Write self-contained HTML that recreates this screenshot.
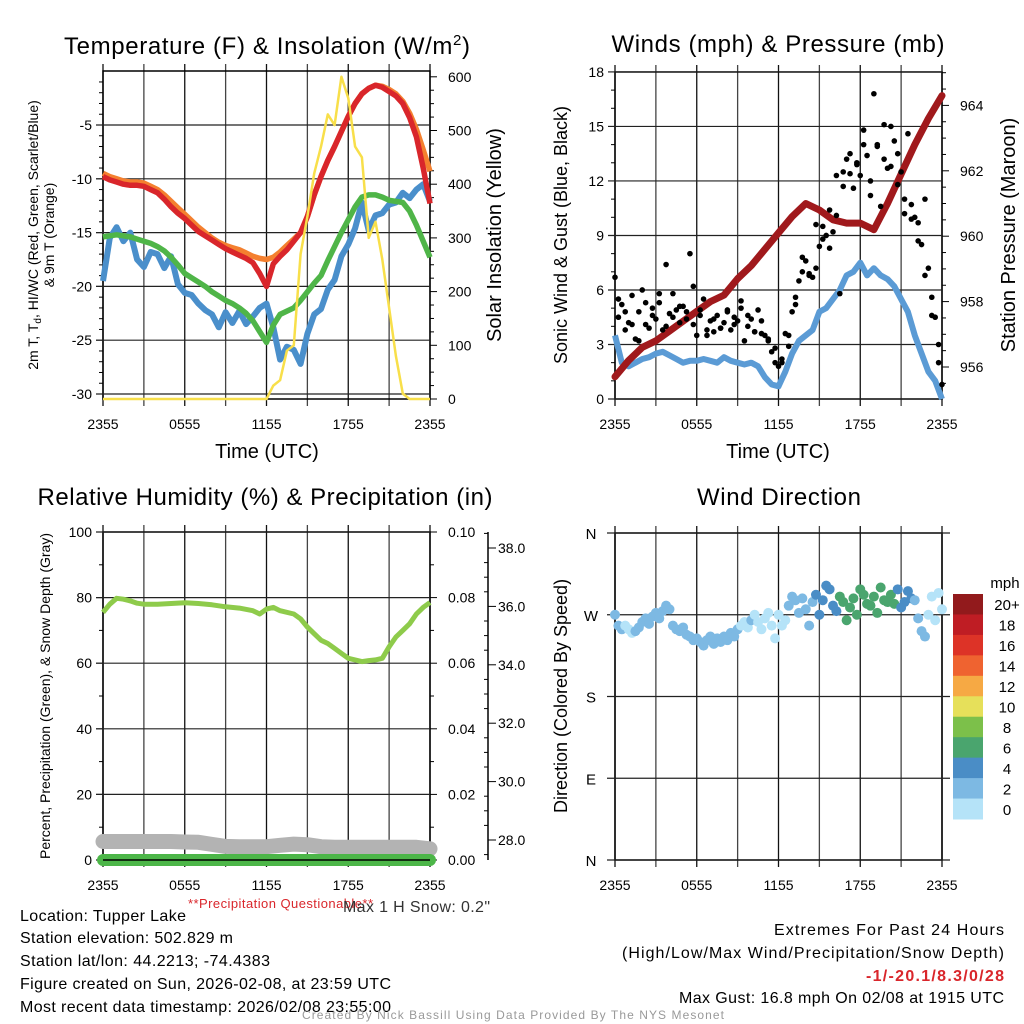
<!DOCTYPE html>
<html><head><meta charset="utf-8">
<style>
body{margin:0;background:#fff}
svg{display:block;font-family:"Liberation Sans",sans-serif}
.nar{font-family:"Liberation Sans Narrow","Liberation Sans",sans-serif}
</style></head>
<body>
<svg id="c" width="1024" height="1024" viewBox="0 0 1024 1024">
  <rect x="0" y="0" width="1024" height="1024" fill="#fff"/>
  <g id="texts" fill="#000">
    <text x="267" y="54" font-size="24" text-anchor="middle" textLength="406">Temperature (F) &amp; Insolation (W/m<tspan dy="-9" font-size="15">2</tspan><tspan dy="9">)</tspan></text>
    <text x="778" y="52" font-size="24" text-anchor="middle" textLength="333">Winds (mph) &amp; Pressure (mb)</text>
    <text x="265" y="505" font-size="24" text-anchor="middle" textLength="455">Relative Humidity (%) &amp; Precipitation (in)</text>
    <text x="779" y="505" font-size="24" text-anchor="middle" textLength="164">Wind Direction</text>

    <text x="267" y="458" font-size="20" text-anchor="middle">Time (UTC)</text>
    <text x="778" y="458" font-size="20" text-anchor="middle">Time (UTC)</text>

    <text transform="translate(38,235) rotate(-90)" font-size="14" text-anchor="middle">2m T, T<tspan font-size="10" dy="3">d</tspan><tspan dy="-3">, HI/WC (Red, Green, Scarlet/Blue)</tspan></text>
    <text transform="translate(54,235) rotate(-90)" font-size="14" text-anchor="middle">&amp; 9m T (Orange)</text>
    <text transform="translate(501,235) rotate(-90)" font-size="20" text-anchor="middle">Solar Insolation (Yellow)</text>
    <text transform="translate(567,235) rotate(-90)" font-size="18" text-anchor="middle">Sonic Wind &amp; Gust (Blue, Black)</text>
    <text transform="translate(1015,235) rotate(-90)" font-size="20" text-anchor="middle">Station Pressure (Maroon)</text>
    <text transform="translate(50,696) rotate(-90)" font-size="14" text-anchor="middle">Percent, Precipitation (Green), &amp; Snow Depth (Gray)</text>
    <text transform="translate(567,696) rotate(-90)" font-size="18" text-anchor="middle">Direction (Colored By Speed)</text>

    <text x="188" y="908" font-size="13" fill="#d9262b" class="nar" textLength="185">**Precipitation Questionable**</text>
    <text x="343" y="912" font-size="16" fill="#333" class="nar" textLength="147">Max 1 H Snow: 0.2"</text>

    <text x="20" y="921" font-size="16" class="nar" textLength="166">Location: Tupper Lake</text>
    <text x="20" y="943" font-size="16" class="nar" textLength="213">Station elevation: 502.829 m</text>
    <text x="20" y="966" font-size="16" class="nar" textLength="250">Station lat/lon: 44.2213; -74.4383</text>
    <text x="20" y="989" font-size="16" class="nar" textLength="371">Figure created on Sun, 2026-02-08, at 23:59 UTC</text>
    <text x="20" y="1012" font-size="16" class="nar" textLength="371">Most recent data timestamp: 2026/02/08 23:55:00</text>

    <text x="774" y="935" font-size="16" class="nar" textLength="230">Extremes For Past 24 Hours</text>
    <text x="622" y="958" font-size="16" class="nar" textLength="382">(High/Low/Max Wind/Precipitation/Snow Depth)</text>
    <text x="866" y="981" font-size="16" class="nar" font-weight="bold" fill="#d9262b" textLength="138">-1/-20.1/8.3/0/28</text>
    <text x="679" y="1003" font-size="16" class="nar" textLength="325">Max Gust: 16.8 mph On 02/08 at 1915 UTC</text>
    <text x="302" y="1019" font-size="12" fill="#999" class="nar" textLength="422">Created By Nick Bassill Using Data Provided By The NYS Mesonet</text>
  </g>
</svg>
<script>
// ===== Data arrays (24 h, 2355 -> 2355 UTC) =====
const xTickLabels = ["2355","0555","1155","1755","2355"];
// 30-minute series (49 values)
const tempRed = [-9.8,-10.1,-10.3,-10.5,-10.6,-10.6,-10.7,-11.0,-11.3,-11.9,-12.6,-13.2,-13.7,-14.3,-14.9,-15.3,-15.7,-16.1,-16.5,-16.8,-17.1,-17.4,-17.8,-18.8,-20.0,-17.9,-17.2,-16.6,-15.8,-15.0,-13.5,-11.5,-9.8,-8.3,-7.0,-5.6,-4.2,-3.0,-2.1,-1.6,-1.3,-1.5,-1.9,-2.3,-3.0,-4.3,-6.1,-9.0,-12.3];
const temp9mOrange = [-9.5,-9.8,-10.0,-10.2,-10.3,-10.3,-10.4,-10.7,-11.0,-11.5,-12.1,-12.7,-13.3,-13.9,-14.5,-15.0,-15.5,-15.9,-16.2,-16.4,-16.6,-16.9,-17.2,-17.4,-17.5,-17.3,-16.8,-16.2,-15.6,-15.0,-13.5,-11.5,-9.8,-8.3,-7.0,-5.6,-4.2,-3.0,-2.1,-1.6,-1.3,-1.4,-1.7,-2.1,-2.8,-3.9,-5.4,-7.3,-9.3];
const dewGreen = [-15.4,-15.3,-15.2,-15.3,-15.4,-15.6,-15.8,-16.0,-16.3,-16.7,-17.3,-18.0,-18.8,-19.2,-19.6,-20.0,-20.5,-20.9,-21.3,-21.6,-22.0,-22.5,-23.2,-24.2,-25.2,-23.6,-22.6,-22.3,-22.0,-21.3,-20.5,-19.7,-19.0,-17.6,-16.3,-15.0,-13.8,-12.6,-11.7,-11.5,-11.5,-11.7,-12.0,-12.1,-12.2,-13.0,-14.3,-15.8,-17.3];
const windChillBlue = [-19.5,-15.5,-14.5,-15.8,-15.0,-17.5,-18.2,-16.8,-17.0,-18.3,-17.2,-19.8,-20.6,-20.8,-21.6,-22.2,-22.6,-23.8,-22.4,-23.4,-22.3,-23.5,-22.8,-22.0,-21.6,-23.8,-26.8,-25.6,-25.9,-27.2,-24.4,-22.6,-22.1,-20.3,-19.4,-17.2,-16.1,-14.6,-12.2,-14.8,-13.4,-13.2,-12.4,-12.2,-11.3,-11.8,-11.0,-10.5,-12.1];
const solarYellow = [0,0,0,0,0,0,0,0,0,0,0,0,0,0,0,0,0,0,0,0,0,0,0,0,0,25,35,90,100,270,340,420,470,530,510,600,560,470,450,300,330,260,170,80,10,0,0,0,0];
const windBlue = [3.5,2.0,1.8,2.0,2.2,2.3,2.5,2.6,2.4,2.2,2.0,2.1,2.1,2.2,2.1,2.0,2.3,2.1,2.0,1.9,2.0,1.8,1.2,0.8,0.7,1.5,2.5,3.2,3.5,3.8,4.8,5.0,5.5,6.0,6.8,7.0,7.5,6.8,7.2,6.8,6.6,6.2,5.5,4.8,3.5,2.5,1.5,1.0,0.0];
// hourly pressure (25 values)
const pressure = [955.7,956.2,956.6,956.8,957.1,957.4,957.7,958.0,958.2,958.7,959.1,959.6,960.1,960.6,961.0,960.8,960.5,960.4,960.4,960.2,961.0,961.9,962.8,963.6,964.3];
// 15-minute gusts (97 values)
const gustA = [6.7,4.5,5.2,3.8,4.2,5.7,3.3,4.8,6.0,4.1,3.9,5.0,4.4,5.3,3.8,7.4,4.7,5.8,4.9,4.2,5.1,4.8,8.0,4.1,3.5,4.9,5.5,3.8,4.3,3.7,4.6,3.9,4.2,4.9,3.8,4.5,4.3,5.0,3.2,4.6,4.4,3.7,4.9,3.6,3.5,3.2,2.6,2.0,1.8,2.2,3.6,2.9,4.8,5.2,6.5,7.0,7.6,6.9,6.7,7.2,8.4,9.5,9.0,8.3,9.2,10.1,5.8,12.5,13.2,12.4,11.6,13.0,12.3,14.0,13.4,12.0,16.8,14.0,10.6,13.2,12.7,15.0,14.2,13.5,12.5,11.0,14.6,10.7,10.0,9.7,8.5,11.0,7.2,5.6,4.5,3.0,0.8];
// 30-minute offset gusts (48 values, at :15 / :45 past)
const gustB = [5.5,4.8,4.1,3.2,5.3,4.6,5.8,4.0,4.5,5.1,4.4,6.2,4.6,3.5,4.4,3.9,4.8,4.1,5.4,4.0,3.7,4.3,3.3,2.8,2.0,3.5,5.6,7.8,6.8,9.6,8.8,10.4,12.3,11.7,13.5,12.9,14.8,11.2,13.9,15.1,12.8,11.8,10.2,9.9,8.7,6.8,4.6,2.0];
// relative humidity (hour, %) pairs
const rhHours = [0,0.5,1,1.5,2,2.5,3,4,5,6,7,8,9,10,11,11.5,12,12.5,13,14,14.5,15,15.5,16,16.5,17,17.5,18,18.5,19,19.5,20,20.5,21,21.5,22,22.5,23,23.5,24];
const rhValues = [75.5,78,79.8,79.5,79,78.3,78,78,78.2,78.4,78.2,77.8,77.2,76.8,76,75,76.5,77,76,75,73.5,71,69,67,66,64.5,63,61.5,61,60.5,60.8,61,61.5,65,68,70,72,75,77,78.5];
// hourly precipitation (in) and snow depth (in)
const precip = [0,0,0,0,0,0,0,0,0,0,0,0,0,0,0,0,0,0,0,0,0,0,0,0,0];
const snowDepth = [27.95,27.95,27.95,27.95,27.95,27.95,27.93,27.92,27.85,27.78,27.77,27.77,27.77,27.82,27.86,27.84,27.77,27.75,27.75,27.75,27.75,27.75,27.75,27.75,27.70];
// 15-minute wind direction (deg, 97 values)
const windDir = [270,258,254,258,254,250,252,256,262,266,260,268,272,266,274,280,276,258,254,252,256,248,246,242,244,240,236,242,246,238,244,240,246,242,250,246,254,258,262,256,264,270,262,254,266,272,258,244,270,258,264,280,290,286,272,288,276,258,284,292,270,286,302,298,280,274,290,284,264,278,288,270,298,292,282,280,290,272,300,286,284,292,282,298,278,284,296,288,286,266,252,246,270,290,264,294,276];
const speedBins = [0,2,4,6,8,10,12,14,16,18,20];
const speedLabels = ["0","2","4","6","8","10","12","14","16","18","20+"];
const speedColors = ["#b5e3f8","#7db9e3","#4a8dc6","#4aa56e","#7cc04a","#e6e05a","#f6a944","#ef6330","#dd3327","#bf1d24","#921a1c"];

// ===== helpers =====
const NS = "http://www.w3.org/2000/svg";
const svg = document.getElementById("c");
function mk(tag, attrs, parent){
  const e = document.createElementNS(NS, tag);
  for (const k in attrs) e.setAttribute(k, attrs[k]);
  (parent || svg).appendChild(e);
  return e;
}
function hourOf(i, n){ return i * 24 / (n - 1); }
function polyPts(vals, xf, yf, hf){
  return vals.map((v,i)=> xf(hf ? hf(i) : hourOf(i, vals.length)).toFixed(1)+","+yf(v).toFixed(1)).join(" ");
}
function line(x1,y1,x2,y2,stroke,w,parent){
  return mk("line",{x1:x1,y1:y1,x2:x2,y2:y2,stroke:stroke,"stroke-width":w},parent);
}
function txt(x,y,s,size,anchor,parent){
  const t = mk("text",{x:x,y:y,"font-size":size,"text-anchor":anchor||"middle"},parent);
  t.textContent = s;
  return t;
}

function frame(name, x0, x1, y0, y1, labelY){
  const g = mk("g",{});
  
  
  for (let h = 0; h <= 24; h += 3){
    const x = x0 + h*(x1-x0)/24;
    const l = line(x, y0-7, x, y1+7, (h%6===0)?"#111":"#444", 1.3, g);
    
    
  }
  xTickLabels.forEach((s,k)=>{
    const t = txt(x0 + k*6*(x1-x0)/24, labelY, s, 14, "middle", g);
    
    
  });
  const r = mk("rect",{x:x0,y:y0,width:x1-x0,height:y1-y0,fill:"none",stroke:"#000","stroke-width":1.5},g);
  
  
  return g;
}
function yAxis(g, x, side, vmin, vmax, major, minor, yf, fmt, labelOff, grid){
  for (let v = vmin; v <= vmax + 1e-9; v += minor){
    const y = yf(v);
    const isMaj = Math.abs(Math.round(v/major)*major - v) < 1e-6;
    const len = isMaj ? 7 : 4;
    line(x, y, x + side*len, y, "#000", 1, g);
    if (isMaj){
      const t = txt(x + side*labelOff, y + 5, fmt(v), 14, side < 0 ? "end" : "start", g);
      
      
      if (grid){
        const gl = line(grid[0], y, grid[1], y, "#222", 1.2, g);
        
        
      }
    }
  }
}

// ===== Panel 1: temperature & insolation =====
(function(){
  const x0=103,x1=430,y0=71,y1=399;
  const X = h => x0 + h*(x1-x0)/24;
  const YT = t => 394 - (t+30)*10.76;
  const YS = w => 399 - w*0.537;
  const g = frame("temperature", x0, x1, y0, y1, 429);
  yAxis(g, x0, -1, -30, -1, 5, 1, YT, v=>String(v), 11, [x0-7, x1]);
  yAxis(g, x1, 1, 0, 600, 100, 25, YS, v=>String(v), 18, null);
  const clip = mk("clipPath",{id:"c1"}); mk("rect",{x:x0-6,y:y0,width:x1-x0+12,height:y1-y0},clip);
  const pl = mk("g",{"clip-path":"url(#c1)"});
  const blue = mk("polyline",{points:polyPts(windChillBlue,X,YT),fill:"none",stroke:"#4a8fcb","stroke-width":6,"stroke-linejoin":"round"},pl);
  
  
  const green = mk("polyline",{points:polyPts(dewGreen,X,YT),fill:"none",stroke:"#4fb548","stroke-width":5.5,"stroke-linejoin":"round"},pl);
  
  
  const orange = mk("polyline",{points:polyPts(temp9mOrange,X,YT),fill:"none",stroke:"#f4802f","stroke-width":5.5,"stroke-linejoin":"round"},pl);
  
  
  const red = mk("polyline",{points:polyPts(tempRed,X,YT),fill:"none",stroke:"#d9262b","stroke-width":5.5,"stroke-linejoin":"round"},pl);
  
  
  const yel = mk("polyline",{points:polyPts(solarYellow,X,YS),fill:"none",stroke:"#f8df4a","stroke-width":2.5,"stroke-linejoin":"round"});
  
  
})();

// ===== Panel 2: winds & pressure =====
(function(){
  const x0=615,x1=942,y0=72,y1=399;
  const X = h => x0 + h*(x1-x0)/24;
  const YW = v => 399 - v*18.17;
  const YP = p => 367 - (p-956)*32.7;
  const g = frame("winds", x0, x1, y0, y1, 429);
  yAxis(g, x0, -1, 0, 18, 3, 1, YW, v=>String(v), 11, [x0-7, x1]);
  yAxis(g, x1, 1, 955.5, 965, 2, 0.5, YP, v=>String(v), 18, null);
  const wl = mk("polyline",{points:polyPts(windBlue,X,YW),fill:"none",stroke:"#5b9bd5","stroke-width":6,"stroke-linejoin":"round"});
  
  
  const pg = mk("polyline",{points:polyPts(pressure,X,YP),fill:"none",stroke:"#a0191c","stroke-width":7,"stroke-linejoin":"round","stroke-linecap":"round"});
  
  
  const dots = mk("g",{fill:"#000"});
  
  
  gustA.forEach((v,i)=>{
    const c = mk("circle",{cx:X(hourOf(i,gustA.length)),cy:YW(v),r:2.8},dots);
    
    
  });
  gustB.forEach((v,i)=>{
    const c = mk("circle",{cx:X((i+0.5)*0.5),cy:YW(v),r:2.8},dots);
    
    
  });
})();

// ===== Panel 3: RH, precip, snow depth =====
(function(){
  const x0=103,x1=430,y0=532,y1=860;
  const X = h => x0 + h*(x1-x0)/24;
  const YR = r => 860 - r*3.28;
  const YPr = p => 860 - p*3280;
  const YSn = s => 840 - (s-28)*29.2;
  const g = frame("humidity", x0, x1, y0, y1, 890);
  yAxis(g, x0, -1, 0, 100, 20, 10, YR, v=>String(v), 11, [x0-7, x1]);
  yAxis(g, x1, 1, 0, 0.1, 0.02, 0.01, YPr, v=>v.toFixed(2), 18, null);
  const sa = line(488, 532, 488, 860, "#000", 1.5, g);
  
  
  for (let s = 27.5; s <= 38.5; s += 0.5){
    const y = YSn(s);
    if (y < 532 || y > 860) continue;
    const maj = Math.abs(s - Math.round(s/2)*2) < 1e-6;
    line(488, y, maj ? 496 : 484, y, "#000", 1, g);
    if (maj){
      const t = txt(498, y+5, s.toFixed(1), 14, "start", g);
      
      
    }
  }
  const sn = mk("polyline",{points:polyPts(snowDepth,X,YSn),fill:"none",stroke:"#b3b3b3","stroke-width":15,"stroke-linejoin":"round","stroke-linecap":"round"});
  
  
  const pr = mk("polyline",{points:polyPts(precip,X,YPr),fill:"none",stroke:"#4cb648","stroke-width":12,"stroke-linecap":"round"});
  
  
  line(x0, y1, x1, y1, "#000", 1.5);
  const rh = mk("polyline",{points:polyPts(rhValues,X,YR,i=>rhHours[i]),fill:"none",stroke:"#8ecb4b","stroke-width":5,"stroke-linejoin":"round"});
  
  
})();

// ===== Panel 4: wind direction =====
(function(){
  const x0=615,x1=942,y0=533,y1=860;
  const X = h => x0 + h*(x1-x0)/24;
  const YD = d => 860 - d*327/360;
  const g = frame("wind-direction", x0, x1, y0, y1, 890);
  ["N","E","S","W","N"].forEach((s,k)=>{
    const y = YD(k*90);
    line(x0-8, y, x1+8, y, "#222", 1.2, g);
    const t = txt(591, y+6, s, 15, "middle", g);
    
    
  });
  function speedAt(h){
    const f = h/24*(windBlue.length-1), i = Math.floor(f), fr = f-i;
    const a = windBlue[i], b = windBlue[Math.min(i+1, windBlue.length-1)];
    return a + (b-a)*fr;
  }
  function colorFor(v){
    let k = 0;
    for (let j = 0; j < speedBins.length; j++) if (v >= speedBins[j]) k = j;
    return speedColors[k];
  }
  const dots = mk("g",{});
  
  
  windDir.forEach((d,i)=>{
    const h = hourOf(i, windDir.length);
    const c = mk("circle",{cx:X(h),cy:YD(d),r:5,fill:colorFor(speedAt(h))},dots);
    
    
  });
  const cb = mk("g",{});
  
  
  const n = speedColors.length, top = 594, bh = (819-594)/n;
  for (let k = 0; k < n; k++){
    const idx = n-1-k;
    const r = mk("rect",{x:953,y:top+k*bh,width:30,height:bh+0.5,fill:speedColors[idx]},cb);
    
    
    const t = txt(1007, top+k*bh+bh/2+6, speedLabels[idx], 15, "middle", cb);
    
    
  }
  const m = txt(1005, 588, "mph", 15, "middle", cb);
  
  
})();
</script>
</body></html>
